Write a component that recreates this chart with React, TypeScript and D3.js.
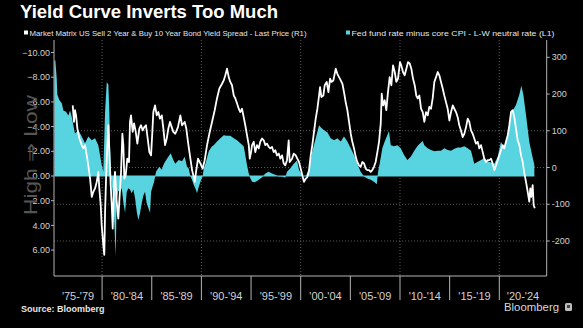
import React from "react";
import * as d3 from "d3";

const title = "Yield Curve Inverts Too Much";
const spreadLabel = "Market Matrix US Sell 2 Year & Buy 10 Year Bond Yield Spread - Last Price (R1)";
const gapLabel = "Fed fund rate minus core CPI - L-W neutral rate (L1)";
const axisNote = "High \u21D2 Low";
const sourceText = "Source: Bloomberg";
const brandText = "Bloomberg";

const periodLabels = ["'75-'79", "'80-'84", "'85-'89", "'90-'94", "'95-'99", "'00-'04", "'05-'09", "'10-'14", "'15-'19", "'20-'24"];
const periodStarts = [1975, 1980, 1985, 1990, 1995, 2000, 2005, 2010, 2015, 2020];
const leftTicks = [-10, -8, -6, -4, -2, 0, 2, 4, 6];
const rightTicks = [300, 200, 100, 0, -100, -200];
const rightGrid = [100, 0, -100, -200];
const gridYears = [1980, 1990, 2000, 2010, 2020];

// Fed funds minus core CPI minus L-W neutral rate (left axis, %, inverted)
const policyGap: [number, number][] = [
  [1975.19, -9.3], [1975.29, -9.4], [1975.43, -7.9], [1975.49, -6.6], [1975.69, -6.15], [1975.94, -5.9],
  [1976.10, -5.3], [1976.37, -5.2], [1976.60, -4.9], [1976.77, -5.3], [1976.94, -4.8], [1977.27, -3.45],
  [1977.61, -3.7], [1977.95, -3.2], [1978.28, -2.65], [1978.61, -3.2], [1978.96, -2.9], [1979.29, -3.05],
  [1979.62, -2.5], [1979.79, -1.7], [1979.96, -0.9], [1980.12, -0.35], [1980.30, -5.2], [1980.47, -7.6],
  [1980.63, -7.4], [1980.73, -5.2], [1980.80, -2.5], [1980.90, 0.2], [1981.13, 1.8], [1981.37, 6.5],
  [1981.47, 2.0], [1981.63, 1.2], [1981.81, 1.27], [1981.98, 1.0], [1982.14, 2.1], [1982.31, 3.0],
  [1982.48, 1.3], [1982.64, 1.0], [1982.81, 1.1], [1982.98, 1.4], [1983.15, 1.1], [1983.32, 1.8],
  [1983.49, 2.9], [1983.65, 3.56], [1983.82, 3.0], [1983.99, 2.2], [1984.15, 1.6], [1984.32, 1.27],
  [1984.49, 2.2], [1984.66, 2.6], [1984.83, 3.0], [1984.93, 1.3], [1985.10, 0.8], [1985.23, 0.5],
  [1985.43, -0.35], [1985.56, -0.5], [1985.76, -0.75], [1986.01, -0.5], [1986.17, -0.9], [1986.34, -1.15],
  [1986.67, -1.56], [1986.91, -1.84], [1987.17, -1.3], [1987.37, -1.0], [1987.72, -1.3], [1988.05, -1.2],
  [1988.32, -1.56], [1988.55, -0.75], [1988.72, -0.6], [1988.89, 0], [1989.06, 0.32], [1989.23, 0.73],
  [1989.39, 1.0], [1989.56, 1.4], [1989.73, 0.9], [1989.89, 0.5], [1990.13, 0], [1990.23, -0.6],
  [1990.40, -1.0], [1990.57, -1.5], [1990.74, -2.0], [1990.90, -2.2], [1991.07, -2.4], [1991.24, -2.5],
  [1991.57, -2.8], [1991.91, -3.05], [1992.25, -3.3], [1992.58, -3.25], [1992.91, -3.25], [1993.26, -3.05],
  [1993.59, -2.9], [1993.92, -2.65], [1994.26, -2.4], [1994.42, -1.7], [1994.59, -0.9], [1994.77, -0.2],
  [1994.93, 0.19], [1995.10, 0.46], [1995.37, 0.5], [1995.60, 0.4], [1995.77, 0.3], [1996.11, 0.1],
  [1996.44, -0.2], [1996.78, -0.35], [1997.11, -0.2], [1997.44, -0.1], [1997.79, 0.05], [1998.12, 0.05],
  [1998.45, 0.15], [1998.62, -0.35], [1998.96, -0.62], [1999.30, -1.0], [1999.63, -1.25], [1999.83, -0.5],
  [2000.16, 0], [2000.51, 0], [2000.84, -0.55], [2001.17, -2.0], [2001.51, -3.05], [2001.85, -4.1],
  [2002.02, -3.95], [2002.35, -3.7], [2002.68, -3.55], [2003.02, -3.05], [2003.36, -2.9], [2003.69, -3.05],
  [2004.03, -2.8], [2004.36, -3.2], [2004.70, -2.8], [2005.04, -2.24], [2005.37, -1.7], [2005.70, -1.0],
  [2006.04, -0.35], [2006.38, 0.05], [2006.71, 0.2], [2007.05, 0.3], [2007.38, 0.46], [2007.66, 0.67],
  [2007.79, -0.35], [2007.99, -1.15], [2008.22, -2.24], [2008.46, -2.8], [2008.72, -3.3], [2008.89, -3.64],
  [2009.07, -2.5], [2009.40, -2.4], [2009.73, -2.5], [2010.07, -2.25], [2010.41, -1.7], [2010.74, -1.3],
  [2011.08, -1.55], [2011.41, -2.0], [2011.74, -2.4], [2011.95, -2.6], [2012.29, -2.83], [2012.45, -2.5],
  [2012.79, -2.25], [2013.12, -2.1], [2013.46, -2.0], [2013.80, -2.05], [2014.13, -2.05], [2014.46, -2.25],
  [2014.80, -2.1], [2015.14, -2.05], [2015.47, -2.2], [2015.81, -2.3], [2016.14, -2.3], [2016.48, -2.4],
  [2016.82, -2.25], [2017.15, -2.05], [2017.48, -1.0], [2017.83, -1.15], [2018.16, -1.3], [2018.49, -1.45],
  [2018.83, -1.2], [2019.17, -1.1], [2019.50, -1.0], [2019.84, -1.55], [2020.17, -2.78], [2020.34, -2.5],
  [2020.50, -2.25], [2020.85, -3.33], [2021.18, -5.07], [2021.35, -5.3], [2021.68, -5.75], [2022.02, -6.6],
  [2022.22, -7.3], [2022.42, -6.6], [2022.69, -4.94], [2023.02, -2.78], [2023.30, -1.7], [2023.53, -0.9],
];

// US 2s10s spread, bp (right axis)
const spread: [number, number][] = [
  [1977.04, 169], [1977.17, 124], [1977.27, 156], [1977.38, 142], [1977.51, 106], [1977.71, 79],
  [1977.95, 61], [1978.11, 52], [1978.28, 61], [1978.45, 33], [1978.61, 6], [1978.79, -30],
  [1978.96, -80], [1979.12, -66], [1979.29, -57], [1979.46, -39], [1979.62, -12], [1979.72, -57],
  [1979.86, -102], [1979.96, -157], [1980.12, -211], [1980.22, -238], [1980.30, -121], [1980.40, -30],
  [1980.53, 61], [1980.63, 115], [1980.73, 42], [1980.87, -48], [1980.97, -102], [1981.07, -166],
  [1981.20, -48], [1981.30, -12], [1981.47, -93], [1981.63, -139], [1981.81, -57], [1981.91, -12],
  [1982.04, 92], [1982.14, 61], [1982.24, -30], [1982.38, -21], [1982.54, 24], [1982.71, 15],
  [1982.81, 124], [1982.91, 142], [1983.08, 97], [1983.22, 120], [1983.39, 97], [1983.55, 65],
  [1983.75, 106], [1983.92, 115], [1984.09, 101], [1984.25, 110], [1984.42, 115], [1984.59, 79],
  [1984.76, 42], [1984.93, 33], [1985.06, 97], [1985.16, 151], [1985.33, 169], [1985.50, 142],
  [1985.66, 151], [1985.83, 133], [1986.01, 142], [1986.17, 106], [1986.34, 61], [1986.51, 79],
  [1986.67, 106], [1986.84, 124], [1987.01, 110], [1987.17, 97], [1987.37, 92], [1987.64, 110],
  [1987.88, 142], [1988.05, 115], [1988.32, 124], [1988.48, 106], [1988.65, 70], [1988.89, 24],
  [1989.06, -7], [1989.23, -26], [1989.33, -39], [1989.46, -12], [1989.66, 24], [1989.89, 11],
  [1990.13, -3], [1990.33, 20], [1990.57, 61], [1990.80, 92], [1991.07, 124], [1991.34, 156],
  [1991.57, 188], [1991.81, 215], [1992.08, 228], [1992.25, 237], [1992.41, 251], [1992.58, 269],
  [1992.75, 246], [1992.91, 233], [1993.08, 224], [1993.26, 196], [1993.42, 188], [1993.59, 174],
  [1993.76, 160], [1993.92, 151], [1994.09, 160], [1994.26, 137], [1994.42, 115], [1994.59, 88],
  [1994.77, 61], [1994.87, 24], [1995.00, 42], [1995.10, 61], [1995.27, 70], [1995.43, 42],
  [1995.60, 61], [1995.77, 52], [1995.93, 70], [1996.11, 79], [1996.28, 74], [1996.44, 61],
  [1996.61, 65], [1996.78, 56], [1996.94, 52], [1997.11, 56], [1997.28, 42], [1997.44, 47],
  [1997.61, 33], [1997.79, 38], [1997.95, 24], [1998.12, 33], [1998.29, 11], [1998.45, 6],
  [1998.62, 20], [1998.79, 74], [1998.89, 15], [1999.13, 24], [1999.30, 38], [1999.50, 33],
  [1999.66, 24], [1999.83, 15], [2000.00, -3], [2000.16, -21], [2000.33, -39], [2000.51, -30],
  [2000.67, -26], [2000.84, -7], [2001.01, 33], [2001.17, 61], [2001.34, 97], [2001.51, 133],
  [2001.68, 160], [2001.85, 196], [2001.95, 219], [2002.08, 192], [2002.28, 196], [2002.42, 224],
  [2002.62, 233], [2002.79, 205], [2002.96, 242], [2003.09, 233], [2003.29, 237], [2003.53, 269],
  [2003.69, 255], [2003.86, 246], [2004.03, 237], [2004.20, 228], [2004.36, 205], [2004.53, 178],
  [2004.70, 156], [2004.87, 124], [2005.04, 92], [2005.20, 70], [2005.37, 52], [2005.54, 29],
  [2005.70, 15], [2005.87, 6], [2006.04, 2], [2006.21, 15], [2006.38, 11], [2006.55, -3],
  [2006.71, -7], [2006.88, -7], [2007.05, -12], [2007.21, -7], [2007.38, 2], [2007.55, 15],
  [2007.72, 42], [2007.89, 70], [2008.06, 120], [2008.16, 201], [2008.29, 169], [2008.46, 183],
  [2008.62, 156], [2008.79, 205], [2008.96, 246], [2009.13, 224], [2009.30, 278], [2009.47, 260],
  [2009.63, 233], [2009.80, 242], [2010.00, 287], [2010.13, 278], [2010.30, 260], [2010.47, 251],
  [2010.64, 269], [2010.81, 287], [2010.98, 283], [2011.14, 269], [2011.31, 242], [2011.48, 224],
  [2011.64, 196], [2011.78, 188], [2011.95, 196], [2012.12, 160], [2012.29, 151], [2012.45, 124],
  [2012.62, 151], [2012.79, 142], [2012.95, 165], [2013.12, 160], [2013.29, 188], [2013.46, 233],
  [2013.63, 246], [2013.80, 260], [2013.96, 251], [2014.13, 233], [2014.30, 215], [2014.46, 196],
  [2014.63, 178], [2014.80, 160], [2014.97, 128], [2015.14, 151], [2015.31, 169], [2015.47, 160],
  [2015.64, 151], [2015.81, 137], [2015.97, 115], [2016.14, 101], [2016.31, 83], [2016.48, 92],
  [2016.65, 110], [2016.82, 133], [2016.98, 124], [2017.15, 101], [2017.32, 92], [2017.48, 79],
  [2017.65, 65], [2017.83, 70], [2017.99, 52], [2018.16, 61], [2018.33, 42], [2018.49, 24],
  [2018.66, 15], [2018.83, 20], [2018.99, 20], [2019.17, 24], [2019.33, 11], [2019.50, -7],
  [2019.67, 6], [2019.84, 20], [2020.00, 33], [2020.17, 47], [2020.34, 61], [2020.50, 52],
  [2020.67, 70], [2020.85, 88], [2021.01, 115], [2021.18, 151], [2021.35, 156], [2021.51, 137],
  [2021.68, 106], [2021.85, 74], [2022.02, 61], [2022.19, 33], [2022.36, 15], [2022.52, -16],
  [2022.69, -39], [2022.86, -66], [2023.02, -93], [2023.12, -57], [2023.22, -80], [2023.36, -48],
  [2023.46, -102], [2023.57, -111],
];

const FONT = "'Liberation Sans', Arial, sans-serif";

export default function App() {
  const left = 54;
  const right = 546.7;
  const top = 40;
  const bottom = 276;

  const x = d3.scaleLinear().domain([1980, 2020]).range([102.1, 499.3]);
  const yL = d3.scaleLinear().domain([-10, 6]).range([52.5, 250.1]);
  const yR = d3.scaleLinear().domain([300, -200]).range([57.3, 241]);
  const fmtL = d3.format(".2f");

  const area = d3
    .area<[number, number]>()
    .x((d) => x(d[0]))
    .y0(yL(0))
    .y1((d) => yL(d[1]));
  const line = d3
    .line<[number, number]>()
    .x((d) => x(d[0]))
    .y((d) => yR(d[1]));

  const gridColor = "#5e5e5e";
  const axisColor = "#b4b4b4";
  const tickText = "#d2d2d2";
  const cyan = "#58d3e0";

  const first = policyGap[0][0];
  const last = policyGap[policyGap.length - 1][0];

  return (
    <svg
      width={583}
      height={328}
      style={{ position: "absolute", left: 0, top: 0, background: "#000" }}
      fontFamily={FONT}
    >
      <rect x={0} y={0} width={583} height={328} fill="#000" />

      {/* title */}
      <text x={20} y={17.5} fill="#fff" fontSize={17.5} fontWeight="bold" textLength={258} lengthAdjust="spacingAndGlyphs">
        {title}
      </text>

      {/* legend */}
      <rect x={24} y={30.5} width={4} height={4} fill="#fff" />
      <text x={29.5} y={35.7} fill="#e6e6e6" fontSize={8} textLength={277} lengthAdjust="spacingAndGlyphs">
        {spreadLabel}
      </text>
      <rect x={346} y={30.5} width={4} height={4} fill={cyan} />
      <text x={351.5} y={35.7} fill="#e6e6e6" fontSize={8} textLength={203} lengthAdjust="spacingAndGlyphs">
        {gapLabel}
      </text>

      {/* gridlines */}
      {gridYears.map((g) => (
        <line key={"gx" + g} x1={x(g)} x2={x(g)} y1={top} y2={bottom} stroke={gridColor} strokeDasharray="1,2" strokeWidth={1} />
      ))}
      {rightGrid.map((g) => (
        <line key={"gy" + g} x1={left} x2={right} y1={yR(g)} y2={yR(g)} stroke={gridColor} strokeDasharray="1,2" strokeWidth={1} />
      ))}

      {/* cyan area */}
      <path d={area(policyGap) || ""} fill={cyan} />
      <line x1={x(first)} x2={x(last)} y1={yL(0)} y2={yL(0)} stroke={cyan} strokeWidth={1} />

      {/* white spread line */}
      <path d={line(spread) || ""} fill="none" stroke="#fff" strokeWidth={1.8} strokeLinejoin="round" />

      {/* left axis */}
      <line x1={left} x2={left} y1={top} y2={bottom} stroke={axisColor} strokeWidth={1} />
      {leftTicks.map((t) => (
        <g key={"lt" + t}>
          <line x1={left - 3} x2={left} y1={yL(t)} y2={yL(t)} stroke={axisColor} />
          <text x={left - 4} y={yL(t)} dy="0.35em" textAnchor="end" fill={tickText} fontSize={9}>
            {fmtL(t)}
          </text>
        </g>
      ))}
      <text
        transform={`translate(31,155) rotate(-90)`}
        textAnchor="middle"
        dy="0.35em"
        fill="#555"
        fontSize={18}
        textLength={120}
        lengthAdjust="spacingAndGlyphs"
      >
        {axisNote}
      </text>

      {/* right axis */}
      <line x1={right} x2={right} y1={top} y2={bottom} stroke={axisColor} strokeWidth={1} />
      {rightTicks.map((t) => (
        <g key={"rt" + t}>
          <line x1={right} x2={right + 3} y1={yR(t)} y2={yR(t)} stroke={axisColor} />
          <text x={right + 5} y={yR(t)} dy="0.35em" fill={tickText} fontSize={9}>
            {t}
          </text>
        </g>
      ))}

      {/* x axis */}
      <line x1={left} x2={right} y1={bottom} y2={bottom} stroke={axisColor} strokeWidth={1} />
      {periodStarts.map((s, i) => {
        const a = Math.max(x(s), left);
        const b = Math.min(x(s + 5), right);
        return (
          <g key={"px" + s}>
            {i > 0 && <line x1={x(s)} x2={x(s)} y1={bottom} y2={bottom + 24} stroke={axisColor} strokeWidth={1} />}
            <text x={(a + b) / 2} y={299.5} textAnchor="middle" fill={tickText} fontSize={11}>
              {periodLabels[i]}
            </text>
          </g>
        );
      })}

      {/* footer */}
      <text x={21} y={311.5} fill="#e6e6e6" fontSize={9} fontWeight="bold">
        {sourceText}
      </text>
      <text x={504} y={311} fill="#d8d8d8" fontSize={11.5} textLength={55} lengthAdjust="spacingAndGlyphs">
        {brandText}
      </text>
      <rect x={565} y={303} width={7} height={8} rx={1.5} fill="#bdbdbd" />
      <rect x={567} y={305} width={3} height={3} fill="#444" />
    </svg>
  );
}
